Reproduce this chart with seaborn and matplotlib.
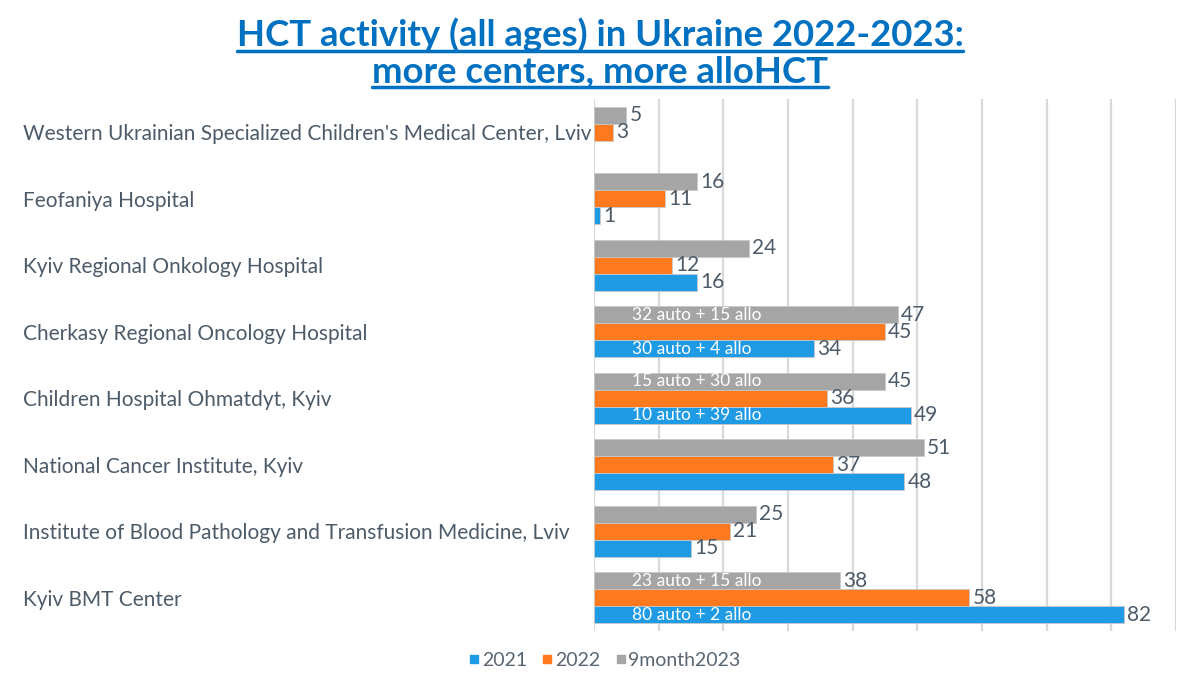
import numpy as np
import pandas as pd
import matplotlib
matplotlib.use("Agg")
import matplotlib.pyplot as plt
from matplotlib.lines import Line2D
import seaborn as sns

# Merkezler (yukarıdan aşağıya)
centers = [
    "Western Ukrainian Specialized Children's Medical Center, Lviv",
    "Feofaniya Hospital",
    "Kyiv Regional Onkology Hospital",
    "Cherkasy Regional Oncology Hospital",
    "Children Hospital Ohmatdyt, Kyiv",
    "National Cancer Institute, Kyiv",
    "Institute of Blood Pathology and Transfusion Medicine, Lviv",
    "Kyiv BMT Center",
]
hct_2021 = [np.nan, 1, 16, 34, 49, 48, 15, 82]
hct_2022 = [3, 11, 12, 45, 36, 37, 21, 58]
hct_2023 = [5, 16, 24, 47, 45, 51, 25, 38]
series = ["2021", "2022", "9month2023"]
colors = {"2021": "#1f9be6", "2022": "#ff7a1f", "9month2023": "#a5a5a5"}

# auto/allo notları
notes_2021 = {"Cherkasy Regional Oncology Hospital": "30 auto + 4 allo",
              "Children Hospital Ohmatdyt, Kyiv": "10 auto + 39 allo",
              "Kyiv BMT Center": "80 auto + 2 allo"}
notes_2023 = {"Cherkasy Regional Oncology Hospital": "32 auto + 15 allo",
              "Children Hospital Ohmatdyt, Kyiv": "15 auto + 30 allo",
              "Kyiv BMT Center": "23 auto + 15 allo"}

df = pd.DataFrame({"Center": centers * 3,
                   "Year": ["2021"] * 8 + ["2022"] * 8 + ["9month2023"] * 8,
                   "HCT": hct_2021 + hct_2022 + hct_2023})

sns.set_style("white")
plt.rcParams["font.family"] = ["Lato", "DejaVu Sans"]

label_color = "#4d5b69"

fig = plt.figure(figsize=(12, 6.75), dpi=100)
ax = fig.add_axes([0.495, 0.0652, 0.485, 0.788])

hue_order = ["9month2023", "2022", "2021"]
sns.barplot(data=df, x="HCT", y="Center", hue="Year", order=centers,
            hue_order=hue_order, palette=colors, width=0.77, orient="h",
            saturation=1, edgecolor="#c8c8c8", linewidth=0.6, ax=ax, legend=False)

ax.set_xlim(0, 90)
ax.set_ylim(len(centers) - 0.5, -0.5)
ax.set_xticks(np.arange(0, 91, 10))
ax.set_xticklabels([])
ax.grid(axis="x", color="#d9d9d9", linewidth=1.6)
ax.set_axisbelow(True)
for s in ax.spines.values():
    s.set_visible(False)
ax.tick_params(axis="x", length=0)
ax.tick_params(axis="y", length=0, pad=411, labelsize=15, labelcolor=label_color)
for lbl in ax.get_yticklabels():
    lbl.set_ha("left")
ax.set_xlabel("")
ax.set_ylabel("")

# Değer etiketleri ve notlar
for year, cont in zip(hue_order, ax.containers):
    notes = notes_2021 if year == "2021" else notes_2023 if year == "9month2023" else {}
    for bar in cont:
        w = bar.get_width()
        if np.isnan(w):
            continue
        yc = bar.get_y() + bar.get_height() / 2
        center = centers[int(round(yc))]
        ax.text(w + 0.5, yc, f"{w:.0f}", va="center", ha="left",
                fontsize=15, color=label_color)
        if center in notes:
            ax.text(5.8, yc, notes[center], va="center", ha="left",
                    fontsize=12.5, color="white")

# Lejant
handles = [Line2D([], [], marker="s", linestyle="", markersize=6,
                  color=colors[s]) for s in series]
fig.legend(handles, series, loc="center", bbox_to_anchor=(0.504, 0.022),
           ncol=3, frameon=False, fontsize=14, handlelength=0.5,
           handletextpad=0.15, columnspacing=0.8, labelcolor="#5a6672")

# Başlık (altı çizili)
title_color = "#0070c0"
t1 = fig.text(0.5, 0.948, "HCT activity (all ages) in Ukraine 2022-2023:",
              ha="center", va="center", fontsize=26.3, fontweight="bold", color=title_color)
t2 = fig.text(0.5, 0.893, "more centers, more alloHCT",
              ha="center", va="center", fontsize=26.3, fontweight="bold", color=title_color)
fig.canvas.draw()
r = fig.canvas.get_renderer()
for t in (t1, t2):
    bb = t.get_window_extent(r).transformed(fig.transFigure.inverted())
    fig.add_artist(Line2D([bb.x0, bb.x1], [bb.y0 + 0.002, bb.y0 + 0.002],
                          transform=fig.transFigure, color=title_color, linewidth=2.5))

fig.savefig("out.png", dpi=100)
